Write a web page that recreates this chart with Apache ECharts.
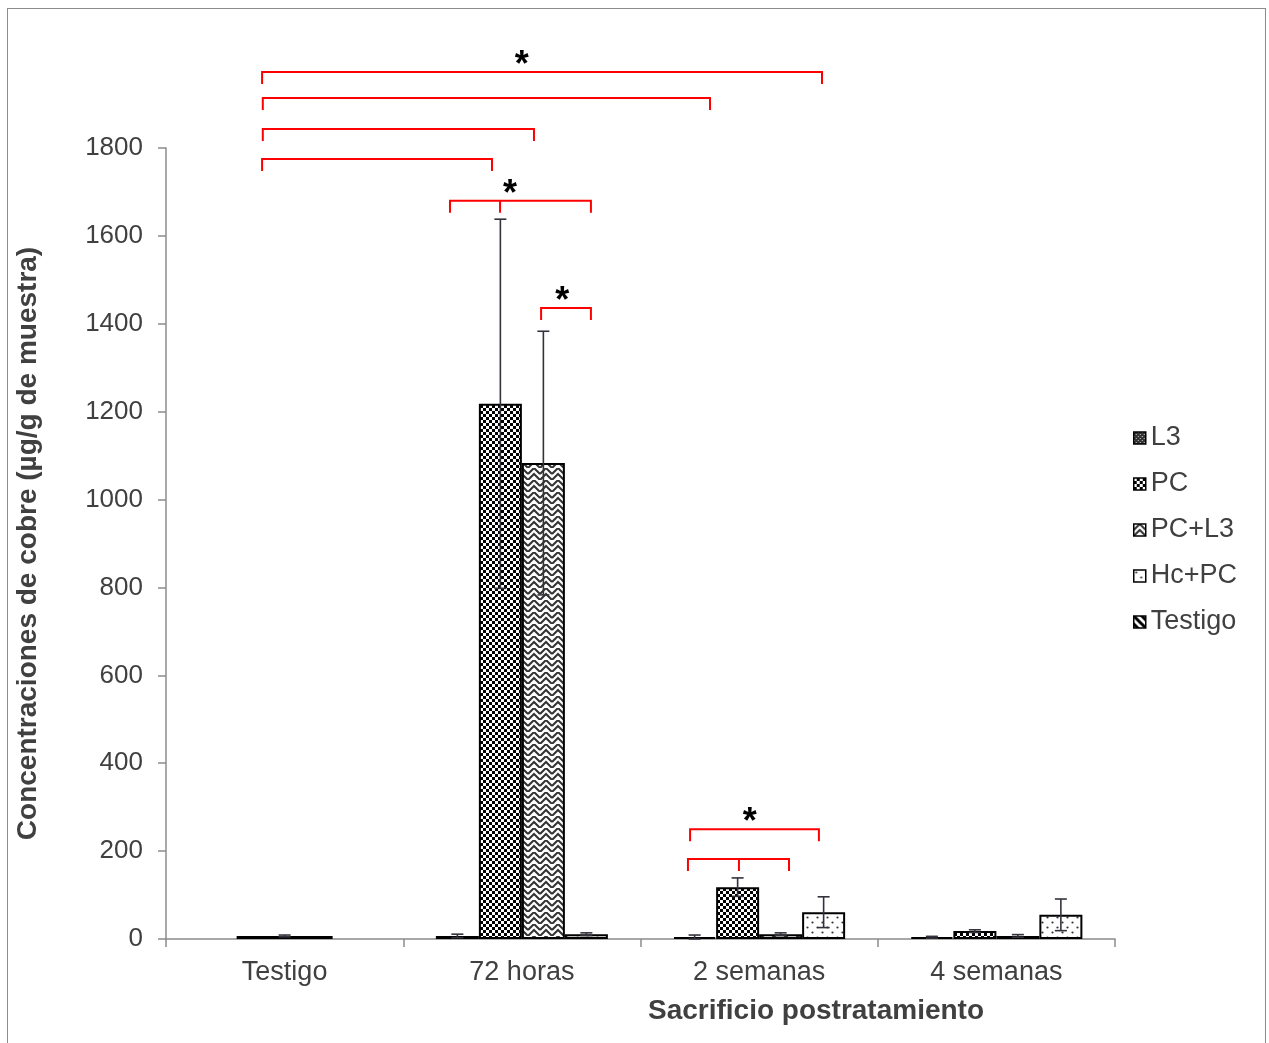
<!DOCTYPE html>
<html>
<head>
<meta charset="utf-8">
<script src="https://cdn.jsdelivr.net/npm/echarts@6/dist/echarts.min.js"></script>
<style>
html, body { margin: 0; padding: 0; background: #fff; }
#frame { position: absolute; left: 7px; top: 8px; width: 1259px; height: 1060px; border: 1.5px solid #8c8c8c; box-sizing: border-box; }
#chart { position: absolute; left: 0; top: 0; width: 1269px; height: 1043px; }
</style>
</head>
<body>
<div id="frame"></div>
<div id="chart"></div>
<script>
// datos
const categories = ['Testigo', '72 horas', '2 semanas', '4 semanas'];
const seriesNames = ['L3', 'PC', 'PC+L3', 'Hc+PC', 'Testigo'];

const valL3 = [null, 7, 4, 4];
const valPC = [null, 1218, 118, 18];
const valPCL3 = [null, 1083, 11, 7];
const valHcPC = [null, 11, 61, 55];
const valTestigo = [7, null, null, null];

const sdL3 = [null, 4, 5, 2];
const sdPC = [null, 420, 21, 3];
const sdPCL3 = [null, 300, 3, 3];
const sdHcPC = [null, 3, 35, 36];
const sdTestigo = [2, null, null, null];

const yTicks = [0, 200, 400, 600, 800, 1000, 1200, 1400, 1600, 1800];

// corchetes de significancia (posicion en unidades de categoria, altura en µg/g)
const bracketFrom = [-0.095, -0.092, -0.092, -0.095, 0.697, 1.081, 1.709, 1.700];
const bracketTo = [2.265, 1.793, 1.051, 0.874, 1.291, 1.291, 2.252, 2.126];
const bracketY = [1973, 1914, 1843, 1775, 1680, 1436, 250, 182];
const bracketMid = [null, null, null, null, 0.908, null, null, 1.915];
const bracketStar = [1.0, null, null, null, 0.95, 1.17, 1.96, null];

const FONT = "'Liberation Sans', Arial, sans-serif";
const BAR_W = 43;

function makePattern(w, h, draw) {
  const c = document.createElement('canvas');
  c.width = w; c.height = h;
  const ctx = c.getContext('2d');
  draw(ctx, w, h);
  return { image: c, repeat: 'repeat' };
}

const patL3 = makePattern(4, 4, (ctx) => {
  ctx.fillStyle = '#333'; ctx.fillRect(0, 0, 4, 4);
  ctx.fillStyle = '#ccc'; ctx.fillRect(0, 0, 1, 1); ctx.fillRect(2, 2, 1, 1);
});
const patPC = makePattern(6, 6, (ctx) => {
  ctx.fillStyle = '#000'; ctx.fillRect(0, 0, 6, 6);
  ctx.fillStyle = '#fff'; ctx.fillRect(0, 0, 3, 3); ctx.fillRect(3, 3, 3, 3);
});
const patPCL3 = makePattern(12, 12, (ctx) => {
  ctx.fillStyle = '#fff'; ctx.fillRect(0, 0, 12, 12);
  ctx.strokeStyle = '#333'; ctx.lineWidth = 2;
  ctx.beginPath();
  ctx.moveTo(0, 12); ctx.lineTo(6, 6); ctx.lineTo(12, 12);
  ctx.moveTo(0, 6); ctx.lineTo(6, 0); ctx.lineTo(12, 6);
  ctx.stroke();
});
const patHcPC = makePattern(10, 10, (ctx) => {
  ctx.fillStyle = '#fff'; ctx.fillRect(0, 0, 10, 10);
  ctx.fillStyle = '#333';
  ctx.beginPath(); ctx.arc(2.5, 2.5, 1.1, 0, Math.PI * 2); ctx.fill();
  ctx.beginPath(); ctx.arc(7.5, 7.5, 1.1, 0, Math.PI * 2); ctx.fill();
});
const patTestigo = makePattern(8, 8, (ctx) => {
  ctx.fillStyle = '#fff'; ctx.fillRect(0, 0, 8, 8);
  ctx.strokeStyle = '#000'; ctx.lineWidth = 3;
  ctx.beginPath();
  ctx.moveTo(-2, -2); ctx.lineTo(10, 10);
  ctx.moveTo(-2, 6); ctx.lineTo(2, 10);
  ctx.moveTo(6, -2); ctx.lineTo(10, 2);
  ctx.stroke();
});

const values = [valL3, valPC, valPCL3, valHcPC, valTestigo];
const sds = [sdL3, sdPC, sdPCL3, sdHcPC, sdTestigo];
const patterns = [patL3, patPC, patPCL3, patHcPC, patTestigo];

const errData = [];
values.forEach((vals, s) => {
  vals.forEach((v, c) => {
    if (v != null) errData.push([c, v, sds[s][c], s]);
  });
});

const chart = echarts.init(document.getElementById('chart'));

const barSeries = seriesNames.map((name, s) => ({
  name: name,
  type: 'bar',
  xAxisIndex: s === 4 ? 1 : 0,
  barWidth: s === 4 ? 96 : BAR_W,
  barGap: '0%',
  data: values[s],
  itemStyle: { color: patterns[s], borderColor: '#000', borderWidth: 2 },
  emphasis: { disabled: true },
  z: 2
}));

const option = {
  animation: false,
  textStyle: { fontFamily: FONT },
  grid: { left: 166, right: 154, top: 148, bottom: 104 },
  legend: {
    data: seriesNames,
    orient: 'vertical',
    left: 1128,
    top: 419,
    icon: 'rect',
    itemWidth: 12,
    itemHeight: 12,
    itemGap: 18,
    itemStyle: { borderColor: '#000', borderWidth: 1.5 },
    textStyle: { fontSize: 27, color: '#404040', fontFamily: FONT, lineHeight: 28 }
  },
  xAxis: [{
    type: 'category',
    data: categories,
    axisLine: { lineStyle: { color: '#8c8c8c', width: 1.5 } },
    axisTick: { show: true, length: 8, lineStyle: { color: '#8c8c8c', width: 1.5 } },
    axisLabel: { fontSize: 27, color: '#404040', margin: 20, fontFamily: FONT }
  }, {
    type: 'category',
    data: categories,
    show: false
  }],
  yAxis: {
    type: 'value',
    min: 0,
    max: 1800,
    interval: 200,
    name: 'Concentraciones de cobre (µg/g de muestra)',
    nameLocation: 'middle',
    nameGap: 124,
    nameTextStyle: { fontSize: 28, fontWeight: 'bold', color: '#404040', fontFamily: FONT },
    axisLine: { show: true, lineStyle: { color: '#8c8c8c', width: 1.5 } },
    axisTick: { show: true, length: 8, lineStyle: { color: '#8c8c8c', width: 1.5 } },
    axisLabel: {
      fontSize: 26, color: '#404040', margin: 23, fontFamily: FONT,
      formatter: (v) => (yTicks.indexOf(v) >= 0 ? String(v) : '')
    },
    splitLine: { show: false }
  },
  graphic: [{
    type: 'text',
    x: 816,
    y: 1011,
    style: {
      text: 'Sacrificio postratamiento',
      fill: '#404040',
      font: 'bold 28px ' + FONT,
      align: 'center',
      verticalAlign: 'middle'
    }
  }],
  series: barSeries.concat([{
    type: 'custom',
    name: 'error',
    xAxisIndex: 0,
    data: errData,
    encode: { x: 0, y: 1 },
    z: 5,
    clip: false,
    renderItem: function (params, api) {
      const c = api.value(0);
      const mean = api.value(1);
      const sd = api.value(2);
      const s = api.value(3);
      const base = api.coord([c, mean]);
      const off = s < 4 ? (s - 1.5) * BAR_W : 0;
      const x = base[0] + off;
      const yTop = api.coord([c, mean + sd])[1];
      const yBot = api.coord([c, Math.max(mean - sd, 0)])[1];
      const st = { stroke: '#33333d', lineWidth: 1.6 };
      return {
        type: 'group',
        children: [
          { type: 'line', shape: { x1: x, y1: yTop, x2: x, y2: yBot }, style: st },
          { type: 'line', shape: { x1: x - 6, y1: yTop, x2: x + 6, y2: yTop }, style: st },
          { type: 'line', shape: { x1: x - 6, y1: yBot, x2: x + 6, y2: yBot }, style: st }
        ]
      };
    }
  }, {
    type: 'custom',
    name: 'brackets',
    xAxisIndex: 0,
    data: bracketY.map((y, i) => [i, y]),
    encode: { x: 0, y: 1 },
    z: 6,
    clip: false,
    renderItem: function (params, api) {
      const i = params.dataIndex;
      const band = api.size([1, 0])[0];
      const x0 = api.coord([0, 0])[0];
      const px = (p) => x0 + p * band;
      const y = api.coord([0, bracketY[i]])[1];
      const leg = 12;
      const red = { stroke: '#ff0000', lineWidth: 2, fill: null };
      const x1 = px(bracketFrom[i]);
      const x2 = px(bracketTo[i]);
      const children = [{
        type: 'polyline',
        shape: { points: [[x1, y + leg], [x1, y], [x2, y], [x2, y + leg]] },
        style: red
      }];
      if (bracketMid[i] != null) {
        const xm = px(bracketMid[i]);
        children.push({ type: 'line', shape: { x1: xm, y1: y, x2: xm, y2: y + leg }, style: red });
      }
      if (bracketStar[i] != null) {
        children.push({
          type: 'text',
          x: px(bracketStar[i]),
          y: y - 6,
          style: { text: '*', font: 'bold 36px ' + FONT, fill: '#000', align: 'center', verticalAlign: 'middle' }
        });
      }
      return { type: 'group', children: children };
    }
  }])
};

chart.setOption(option);
</script>
</body>
</html>
